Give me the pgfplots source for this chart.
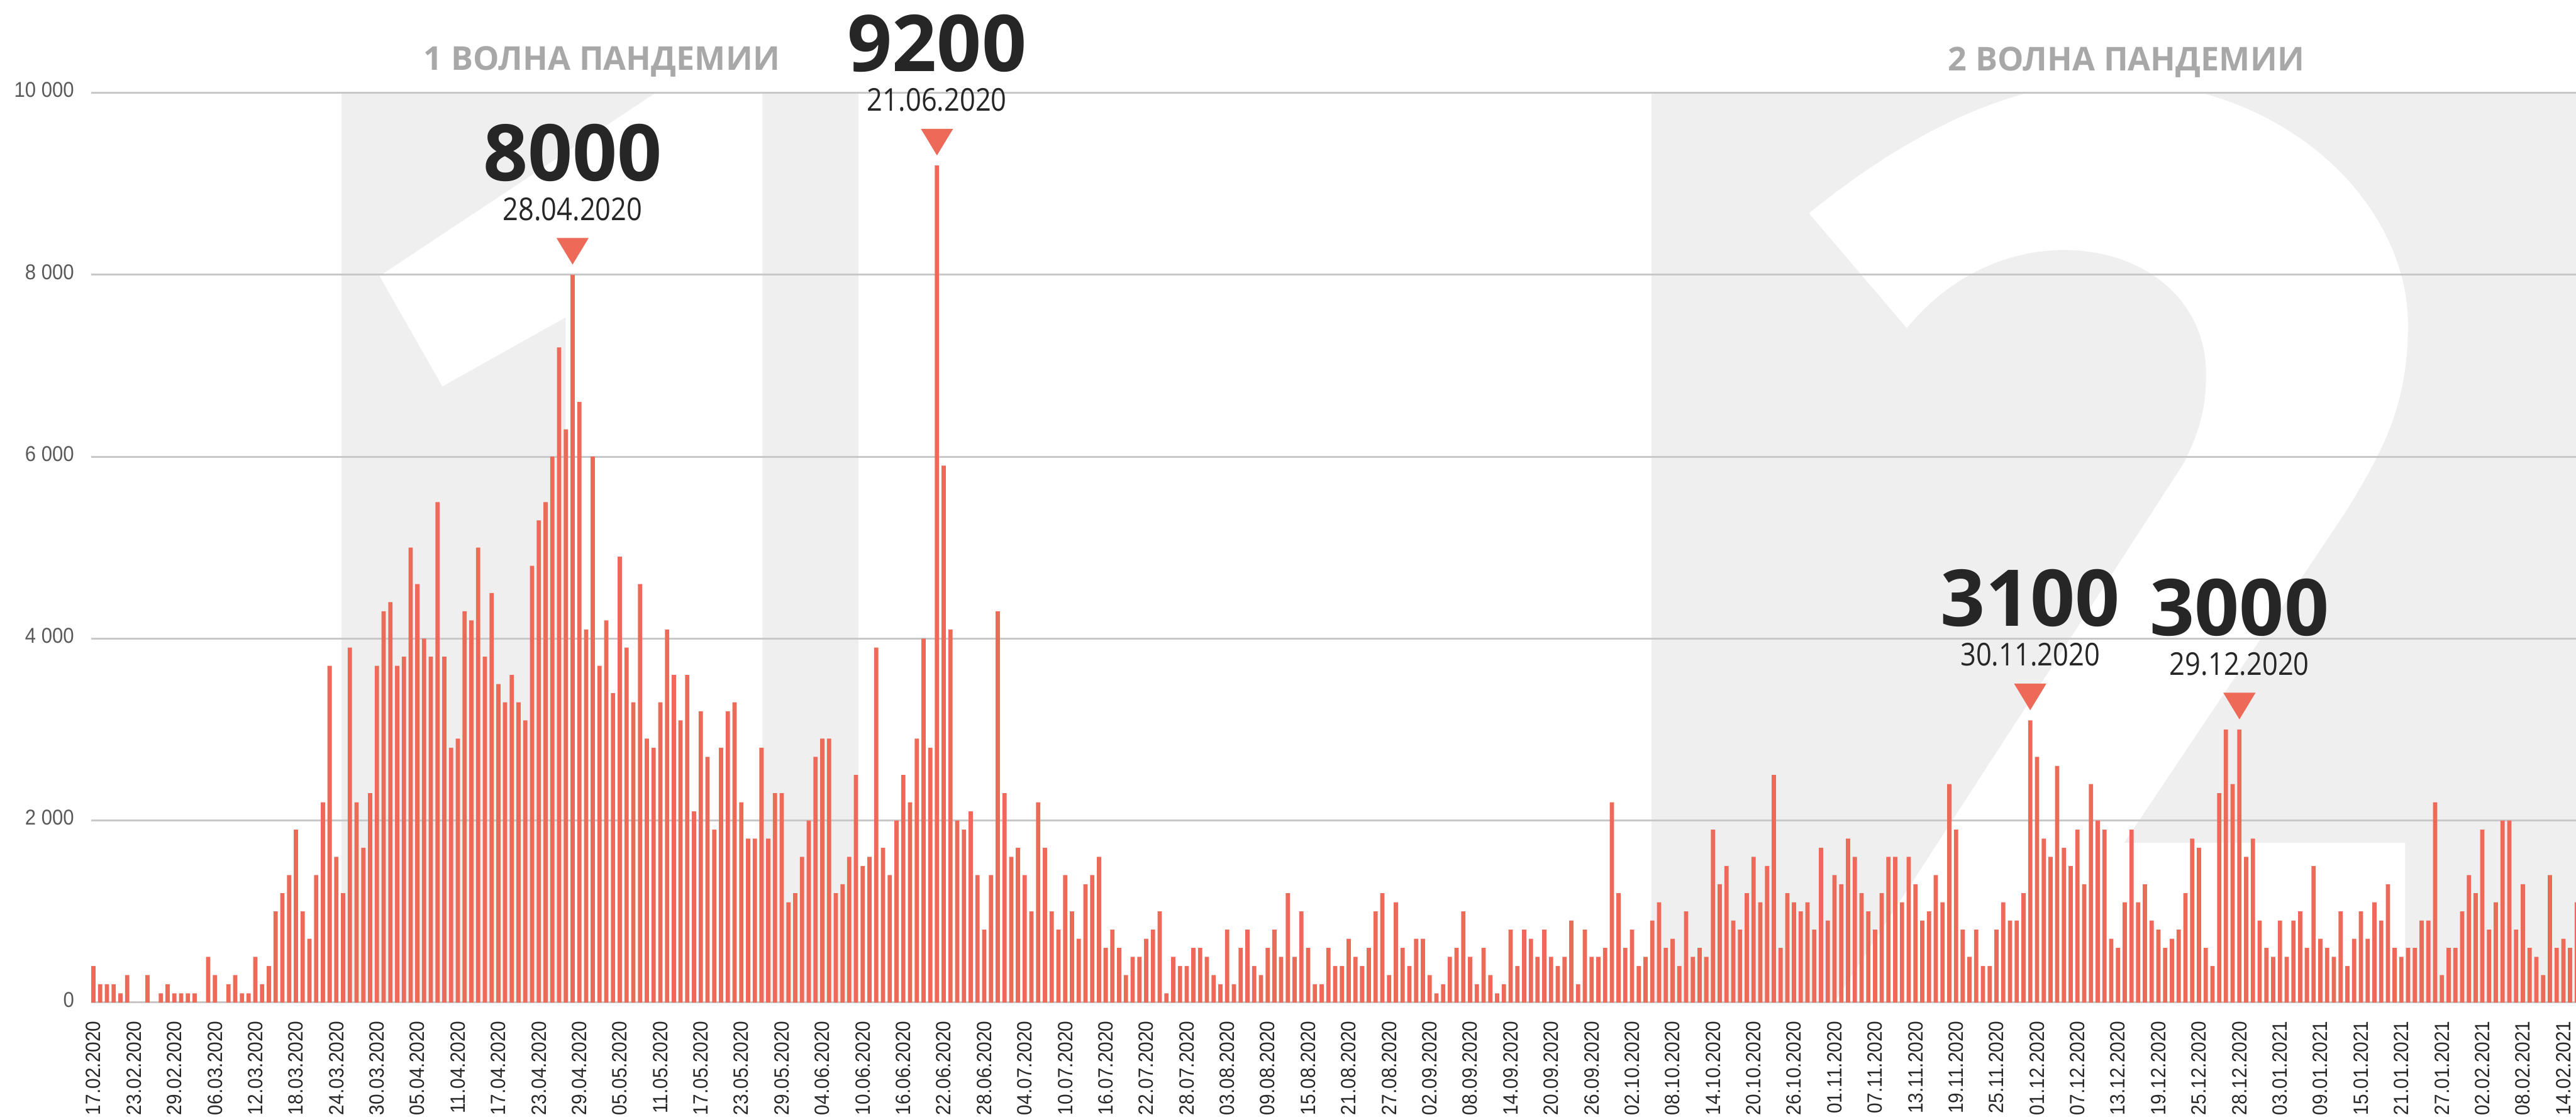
\documentclass[border=0pt]{standalone}
\usepackage{pgfplots}
\usepackage{pgfplotstable}
\pgfplotsset{compat=1.18}
\usepackage{fontspec}
\setmainfont{Open Sans}
\newfontfamily\osans{Open Sans}
\newfontfamily\datefont{Open Sans}[FakeStretch=0.87]
\newfontfamily\tickfont{Liberation Sans}[FakeStretch=0.91]
\definecolor{barc}{RGB}{237,106,89}
\definecolor{bggray}{RGB}{239,239,239}
\definecolor{gridc}{RGB}{200,200,200}
\definecolor{xlabc}{RGB}{40,40,40}
\definecolor{ylabc}{RGB}{90,90,90}
\definecolor{titlec}{RGB}{168,168,168}
\definecolor{numc}{RGB}{38,38,38}

\pgfplotstableread[row sep=\\]{
i v \\
0 400 \\ 1 200 \\ 2 200 \\ 3 200 \\ 4 100 \\ 5 300 \\ 6 0 \\ 7 0 \\ 8 300 \\ 9 0 \\
10 100 \\ 11 200 \\ 12 100 \\ 13 100 \\ 14 100 \\ 15 100 \\ 16 0 \\ 17 500 \\ 18 300 \\ 19 0 \\
20 200 \\ 21 300 \\ 22 100 \\ 23 100 \\ 24 500 \\ 25 200 \\ 26 400 \\ 27 1000 \\ 28 1200 \\ 29 1400 \\
30 1900 \\ 31 1000 \\ 32 700 \\ 33 1400 \\ 34 2200 \\ 35 3700 \\ 36 1600 \\ 37 1200 \\ 38 3900 \\ 39 2200 \\
40 1700 \\ 41 2300 \\ 42 3700 \\ 43 4300 \\ 44 4400 \\ 45 3700 \\ 46 3800 \\ 47 5000 \\ 48 4600 \\ 49 4000 \\
50 3800 \\ 51 5500 \\ 52 3800 \\ 53 2800 \\ 54 2900 \\ 55 4300 \\ 56 4200 \\ 57 5000 \\ 58 3800 \\ 59 4500 \\
60 3500 \\ 61 3300 \\ 62 3600 \\ 63 3300 \\ 64 3100 \\ 65 4800 \\ 66 5300 \\ 67 5500 \\ 68 6000 \\ 69 7200 \\
70 6300 \\ 71 8000 \\ 72 6600 \\ 73 4100 \\ 74 6000 \\ 75 3700 \\ 76 4200 \\ 77 3400 \\ 78 4900 \\ 79 3900 \\
80 3300 \\ 81 4600 \\ 82 2900 \\ 83 2800 \\ 84 3300 \\ 85 4100 \\ 86 3600 \\ 87 3100 \\ 88 3600 \\ 89 2100 \\
90 3200 \\ 91 2700 \\ 92 1900 \\ 93 2800 \\ 94 3200 \\ 95 3300 \\ 96 2200 \\ 97 1800 \\ 98 1800 \\ 99 2800 \\
100 1800 \\ 101 2300 \\ 102 2300 \\ 103 1100 \\ 104 1200 \\ 105 1600 \\ 106 2000 \\ 107 2700 \\ 108 2900 \\ 109 2900 \\
110 1200 \\ 111 1300 \\ 112 1600 \\ 113 2500 \\ 114 1500 \\ 115 1600 \\ 116 3900 \\ 117 1700 \\ 118 1400 \\ 119 2000 \\
120 2500 \\ 121 2200 \\ 122 2900 \\ 123 4000 \\ 124 2800 \\ 125 9200 \\ 126 5900 \\ 127 4100 \\ 128 2000 \\ 129 1900 \\
130 2100 \\ 131 1400 \\ 132 800 \\ 133 1400 \\ 134 4300 \\ 135 2300 \\ 136 1600 \\ 137 1700 \\ 138 1400 \\ 139 1000 \\
140 2200 \\ 141 1700 \\ 142 1000 \\ 143 800 \\ 144 1400 \\ 145 1000 \\ 146 700 \\ 147 1300 \\ 148 1400 \\ 149 1600 \\
150 600 \\ 151 800 \\ 152 600 \\ 153 300 \\ 154 500 \\ 155 500 \\ 156 700 \\ 157 800 \\ 158 1000 \\ 159 100 \\
160 500 \\ 161 400 \\ 162 400 \\ 163 600 \\ 164 600 \\ 165 500 \\ 166 300 \\ 167 200 \\ 168 800 \\ 169 200 \\
170 600 \\ 171 800 \\ 172 400 \\ 173 300 \\ 174 600 \\ 175 800 \\ 176 500 \\ 177 1200 \\ 178 500 \\ 179 1000 \\
180 600 \\ 181 200 \\ 182 200 \\ 183 600 \\ 184 400 \\ 185 400 \\ 186 700 \\ 187 500 \\ 188 400 \\ 189 600 \\
190 1000 \\ 191 1200 \\ 192 300 \\ 193 1100 \\ 194 600 \\ 195 400 \\ 196 700 \\ 197 700 \\ 198 300 \\ 199 100 \\
200 200 \\ 201 500 \\ 202 600 \\ 203 1000 \\ 204 500 \\ 205 200 \\ 206 600 \\ 207 300 \\ 208 100 \\ 209 200 \\
210 800 \\ 211 400 \\ 212 800 \\ 213 700 \\ 214 500 \\ 215 800 \\ 216 500 \\ 217 400 \\ 218 500 \\ 219 900 \\
220 200 \\ 221 800 \\ 222 500 \\ 223 500 \\ 224 600 \\ 225 2200 \\ 226 1200 \\ 227 600 \\ 228 800 \\ 229 400 \\
230 500 \\ 231 900 \\ 232 1100 \\ 233 600 \\ 234 700 \\ 235 400 \\ 236 1000 \\ 237 500 \\ 238 600 \\ 239 500 \\
240 1900 \\ 241 1300 \\ 242 1500 \\ 243 900 \\ 244 800 \\ 245 1200 \\ 246 1600 \\ 247 1100 \\ 248 1500 \\ 249 2500 \\
250 600 \\ 251 1200 \\ 252 1100 \\ 253 1000 \\ 254 1100 \\ 255 800 \\ 256 1700 \\ 257 900 \\ 258 1400 \\ 259 1300 \\
260 1800 \\ 261 1600 \\ 262 1200 \\ 263 1000 \\ 264 800 \\ 265 1200 \\ 266 1600 \\ 267 1600 \\ 268 1100 \\ 269 1600 \\
270 1300 \\ 271 900 \\ 272 1000 \\ 273 1400 \\ 274 1100 \\ 275 2400 \\ 276 1900 \\ 277 800 \\ 278 500 \\ 279 800 \\
280 400 \\ 281 400 \\ 282 800 \\ 283 1100 \\ 284 900 \\ 285 900 \\ 286 1200 \\ 287 3100 \\ 288 2700 \\ 289 1800 \\
290 1600 \\ 291 2600 \\ 292 1700 \\ 293 1500 \\ 294 1900 \\ 295 1300 \\ 296 2400 \\ 297 2000 \\ 298 1900 \\ 299 700 \\
300 600 \\ 301 1100 \\ 302 1900 \\ 303 1100 \\ 304 1300 \\ 305 900 \\ 306 800 \\ 307 600 \\ 308 700 \\ 309 800 \\
310 1200 \\ 311 1800 \\ 312 1700 \\ 313 600 \\ 314 400 \\ 315 2300 \\ 316 3000 \\ 317 2400 \\ 318 3000 \\ 319 1600 \\
320 1800 \\ 321 900 \\ 322 600 \\ 323 500 \\ 324 900 \\ 325 500 \\ 326 900 \\ 327 1000 \\ 328 600 \\ 329 1500 \\
330 700 \\ 331 600 \\ 332 500 \\ 333 1000 \\ 334 400 \\ 335 700 \\ 336 1000 \\ 337 700 \\ 338 1100 \\ 339 900 \\
340 1300 \\ 341 600 \\ 342 500 \\ 343 600 \\ 344 600 \\ 345 900 \\ 346 900 \\ 347 2200 \\ 348 300 \\ 349 600 \\
350 600 \\ 351 1000 \\ 352 1400 \\ 353 1200 \\ 354 1900 \\ 355 800 \\ 356 1100 \\ 357 2000 \\ 358 2000 \\ 359 800 \\
360 1300 \\ 361 600 \\ 362 500 \\ 363 300 \\ 364 1400 \\ 365 600 \\ 366 700 \\ 367 600 \\ 368 1100 \\
}\dailydata

\begin{document}
\begin{tikzpicture}
\useasboundingbox (0pt,0pt) rectangle (910.8pt,394.8pt);
\clip (0pt,0pt) rectangle (910.8pt,394.8pt);
% background shading and big numerals (pixel units, y downward)
\begin{scope}[shift={(0pt,394.8pt)}, x=0.2pt, y=-0.2pt]
  \fill[bggray] (604,164) rectangle (1518,1772);
  \fill[bggray] (2919.5,164) rectangle (4600,1772);
  % white "1"
  \fill[white] (671,488) -- (1176,153) -- (1348,153) -- (1348,1772) -- (1000,1772) -- (1000,561) -- (782,683) -- cycle;
  % white "2"
  \fill[white] (3198,377) .. controls (3380,230) and (3560,144) .. (3734,144)
    .. controls (4040,144) and (4257,360) .. (4257,574)
    .. controls (4257,720) and (4210,800) .. (4150,900)
    -- (3755,1490) -- (4252,1490) -- (4252,1772) -- (3243,1772)
    -- (3860,820)
    .. controls (3890,760) and (3900,720) .. (3900,660)
    .. controls (3900,530) and (3790,442) .. (3649,442)
    .. controls (3540,442) and (3440,495) .. (3371,580) -- cycle;
\end{scope}

\node[font=\osans\bfseries\fontsize{11.6}{12}\selectfont, text=titlec, anchor=base] at (212.8pt,370pt) {1 ВОЛНА ПАНДЕМИИ};
\node[font=\osans\bfseries\fontsize{11.6}{12}\selectfont, text=titlec, anchor=base] at (751.8pt,369.8pt) {2 ВОЛНА ПАНДЕМИИ};

\begin{axis}[
  at={(32.2pt,40.4pt)}, anchor=south west,
  scale only axis, width=878.6pt, height=321.6pt,
  xmin=-0.35, xmax=367.88, ymin=0, ymax=10000,
  clip=false,
  axis line style={draw=none},
  major tick length=0pt,
  scaled y ticks=false,
  ymajorgrids, grid style={color=gridc, line width=0.66pt},
  ytick={0,2000,4000,6000,8000,10000},
  yticklabels={0,2 000,4 000,6 000,8 000,10 000},
  yticklabel style={font=\tickfont\fontsize{7.6}{8}\selectfont, text=ylabc, anchor=east, inner sep=0pt, yshift=1pt},
  yticklabel shift=5.8pt,
  xtick={0,6,...,366},
  xticklabels={17.02.2020,23.02.2020,29.02.2020,06.03.2020,12.03.2020,18.03.2020,24.03.2020,30.03.2020,05.04.2020,11.04.2020,17.04.2020,23.04.2020,29.04.2020,05.05.2020,11.05.2020,17.05.2020,23.05.2020,29.05.2020,04.06.2020,10.06.2020,16.06.2020,22.06.2020,28.06.2020,04.07.2020,10.07.2020,16.07.2020,22.07.2020,28.07.2020,03.08.2020,09.08.2020,15.08.2020,21.08.2020,27.08.2020,02.09.2020,08.09.2020,14.09.2020,20.09.2020,26.09.2020,02.10.2020,08.10.2020,14.10.2020,20.10.2020,26.10.2020,01.11.2020,07.11.2020,13.11.2020,19.11.2020,25.11.2020,01.12.2020,07.12.2020,13.12.2020,19.12.2020,25.12.2020,28.12.2020,03.01.2021,09.01.2021,15.01.2021,21.01.2021,27.01.2021,02.02.2021,08.02.2021,14.02.2021},
  xticklabel style={font=\tickfont\fontsize{7.3}{8}\selectfont, text=xlabc, rotate=90, anchor=east, inner sep=0pt},
  xticklabel shift=6.4pt,
  ybar, bar width=0.63,
]
\addplot[fill=barc, draw=none] table[x=i, y=v] {\dailydata};

% annotations
\foreach \px/\py/\num/\dt in {71/8000/8000/28.04.2020, 125/9200/9200/21.06.2020, 287/3100/3100/30.11.2020, 318/3000/3000/29.12.2020}{
  \edef\temp{\noexpand\fill[barc] ([yshift=3.6pt]axis cs:\px,\py) -- ++(-5.7pt,9.4pt) -- ++(11.4pt,0pt) -- cycle;
  \noexpand\node[font=\noexpand\datefont\noexpand\fontsize{11.1}{12}\noexpand\selectfont, text=numc, inner sep=0pt] at ([yshift=23.2pt]axis cs:\px,\py) {\dt};
  \noexpand\node[font=\noexpand\osans\noexpand\bfseries\noexpand\fontsize{27.7}{30}\noexpand\selectfont, text=numc, inner sep=0pt] at ([yshift=43.2pt]axis cs:\px,\py) {\num};}
  \temp
}
\end{axis}
\end{tikzpicture}
\end{document}
